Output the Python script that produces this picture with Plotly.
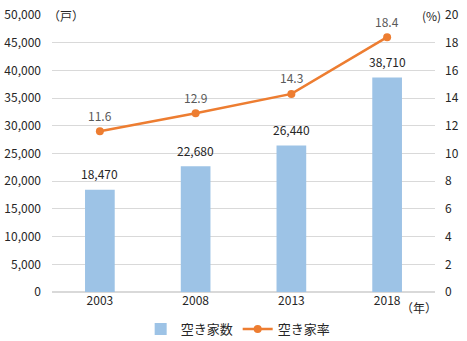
import plotly.graph_objects as go

years = ["2003", "2008", "2013", "2018"]
vacant_counts = [18470, 22680, 26440, 38710]
vacant_rates = [11.6, 12.9, 14.3, 18.4]

FONT = "Noto Sans CJK JP"

fig = go.Figure()

fig.add_trace(go.Bar(
    x=years, y=vacant_counts, name="空き家数",
    marker=dict(color="#9DC3E6", line=dict(width=0)),
    width=0.31,
))

fig.add_trace(go.Scatter(
    x=years, y=vacant_rates, name="空き家率", yaxis="y2",
    mode="lines+markers",
    line=dict(color="#ED7D31", width=2.5),
    marker=dict(color="#ED7D31", size=8),
    cliponaxis=False,
))

# value labels above bars and line points (category index positions)
labels = []
for i, v in enumerate(vacant_counts):
    labels.append(dict(text=f"{v:,}", x=i, y=v, xref="x", yref="y",
                       yanchor="middle", yshift=16, showarrow=False,
                       font=dict(size=12, color="#262626")))
for i, r in enumerate(vacant_rates):
    labels.append(dict(text=f"{r:.1f}", x=i, y=r, xref="x", yref="y2",
                       yanchor="middle", yshift=16, showarrow=False,
                       font=dict(size=12, color="#595959")))

fig.update_layout(
    width=467, height=341,
    margin=dict(l=52, r=32, t=15, b=49, autoexpand=False),
    paper_bgcolor="white", plot_bgcolor="white",
    font=dict(family=FONT, size=12, color="#262626"),
    showlegend=True,
    legend=dict(orientation="h", xref="container", yref="container",
                x=0.51, xanchor="center", y=0.035, yanchor="middle",
                font=dict(size=13, color="#262626"),
                traceorder="normal"),
    xaxis=dict(type="category", range=[-0.5, len(years) - 0.5], showgrid=False,
               showline=False, ticks="", tickfont=dict(size=12), automargin=False),
    yaxis=dict(range=[0, 50000], dtick=5000, tickformat=",", showgrid=True,
               gridcolor="#D9D9D9", gridwidth=1, zeroline=True, zerolinecolor="#D9D9D9",
               ticks="", ticklabelstandoff=10, tickfont=dict(size=12), automargin=False),
    yaxis2=dict(range=[0, 20], dtick=2, overlaying="y", side="right", showgrid=False,
                zeroline=False, ticks="", ticklabelstandoff=9, tickfont=dict(size=12),
                automargin=False),
    annotations=labels + [
        dict(text="（戸）", xref="paper", yref="paper", x=0.0, y=1.0, xanchor="left",
             xshift=-6, yanchor="middle", showarrow=False, font=dict(size=12)),
        dict(text="(%)", xref="paper", yref="paper", x=1.0, y=1.0, xanchor="right",
             xshift=8, yanchor="middle", showarrow=False, font=dict(size=12)),
        dict(text="（年）", xref="paper", yref="paper", x=1.0, y=-0.055, xanchor="right",
             xshift=4, yanchor="middle", showarrow=False, font=dict(size=12)),
    ],
)

fig.write_html("out.html")
